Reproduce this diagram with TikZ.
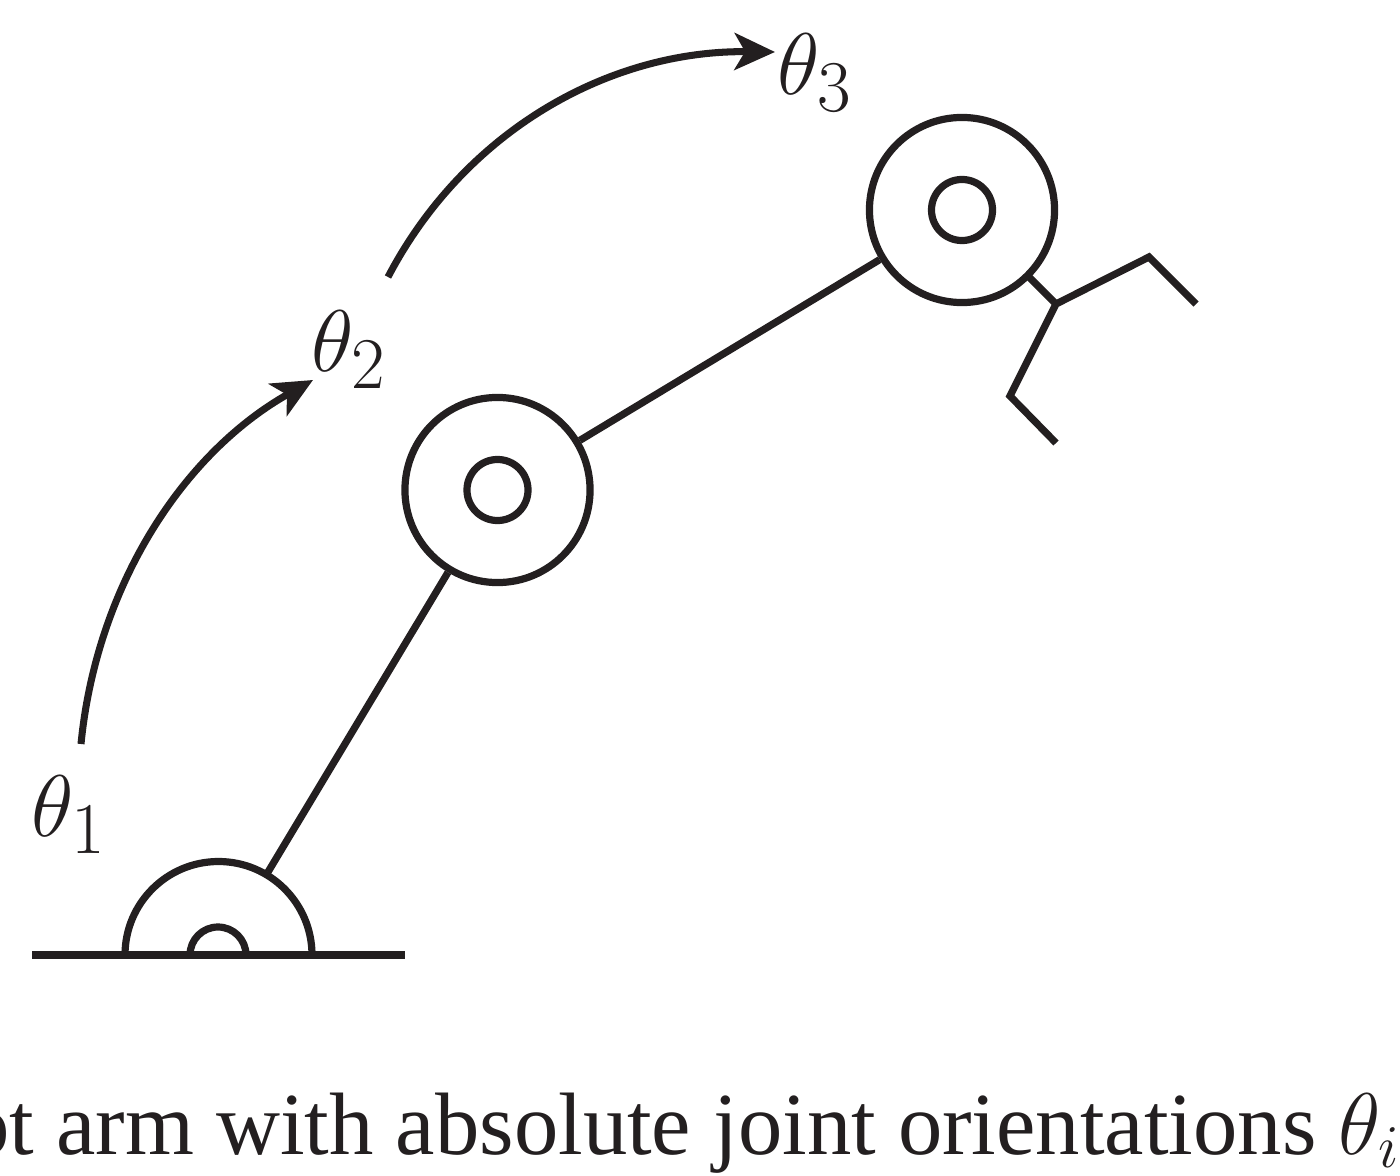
\documentclass[tikz,border=0pt]{standalone}
\usepackage{tikz}
\usepackage{fontspec}
\setmainfont{Liberation Serif}
\usetikzlibrary{arrows.meta,positioning,calc}
\definecolor{armcol}{HTML}{231F20}

\begin{document}
\begin{tikzpicture}[x=0.01cm,y=-0.01cm,line width=2.05pt,draw=armcol,
  linkline/.style={draw=armcol,line width=2.05pt},
  sweep/.style={draw=armcol,line width=2pt,-{Stealth[length=11.5pt,width=10.5pt,inset=3pt]}},
  outerjoint/.style={circle,draw=armcol,line width=2.05pt,minimum size=1.85cm,inner sep=0pt},
  innerjoint/.style={circle,draw=armcol,line width=2.05pt,minimum size=0.61cm,inner sep=0pt},
  anglelabel/.style={text=armcol,font=\fontsize{31}{31}\selectfont,inner sep=0pt}]
\useasboundingbox (0,0) rectangle (1400,1176);
% joints
\node[outerjoint] (jointa) at (497.5,490) {};
\node[innerjoint] (pina) at (497.5,490) {};
\node[outerjoint] (jointb) at (962,210) {};
\node[innerjoint] (pinb) at (962,210) {};
% base
\coordinate (groundl) at (32,955);
\coordinate (groundr) at (405,955);
\draw[line width=2.2pt] (groundl) -- (groundr);
\draw (125,955) arc[start angle=180,end angle=360,radius=93.5];
\draw (190,955) arc[start angle=180,end angle=360,radius=28];
% links
\coordinate (basetop) at (268,872);
\draw[linkline] (basetop) -- (jointa);
\draw[linkline] (jointa) -- (jointb);
% gripper
\coordinate (wrist) at (1056,304);
\coordinate (fingera) at (1149,257);
\coordinate (tipa) at (1196,304);
\coordinate (fingerb) at (1010,396);
\coordinate (tipb) at (1056,443);
\draw[linkline] (jointb) ++(45:93) -- (wrist);
\draw[linkline] (tipa) -- (fingera) -- (wrist) -- (fingerb) -- (tipb);
% labels
\node[anglelabel] (thetaa) at (69,815) {$\theta_1$};
\node[anglelabel] (thetab) at (349.5,350) {$\theta_2$};
\node[anglelabel] (thetac) at (815.5,73) {$\theta_3$};
% arrows
\coordinate (tipc) at (313,380);
\coordinate (tipd) at (775,52);
\draw[sweep] (81,744) .. controls (96,590) and (180,455) .. (tipc);
\draw[sweep] (388,277) .. controls (465,130) and (610,50) .. (tipd);
% caption
\node[text=armcol,font=\fontsize{25.2}{25.2}\selectfont,anchor=base,inner sep=0pt] (caption) at (609,1154) {Robot arm with absolute joint orientations $\theta_i$};
\end{tikzpicture}
\end{document}
